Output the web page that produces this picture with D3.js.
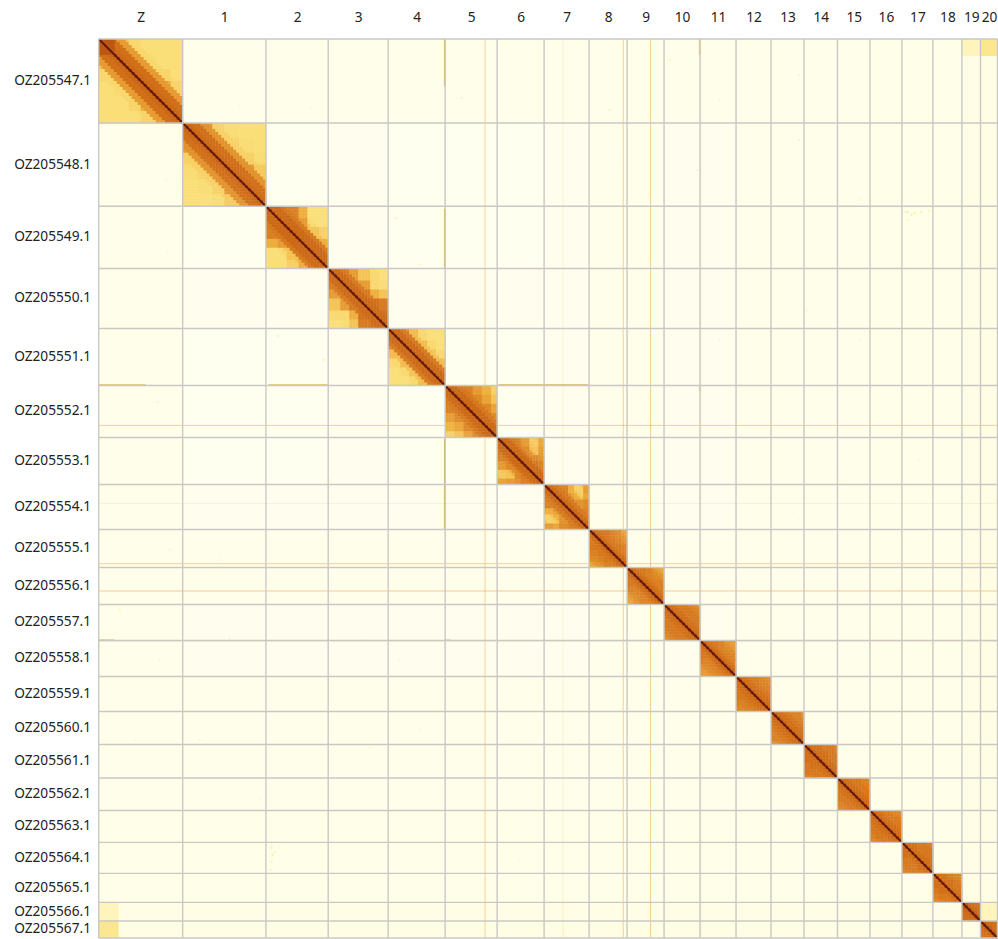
<!DOCTYPE html>
<html>
<head>
<meta charset="utf-8">
<script src="https://cdn.jsdelivr.net/npm/d3@7/dist/d3.min.js"></script>
<style>
html, body { margin: 0; padding: 0; background: #fff; }
svg { display: block; }
text { font-family: "Noto Sans", sans-serif; fill: #222; }
</style>
</head>
<body>
<script>
// scaffolds in map order
var scaffolds = ["OZ205547.1","OZ205548.1","OZ205549.1","OZ205550.1","OZ205551.1","OZ205552.1","OZ205553.1",
	"OZ205554.1","OZ205555.1","OZ205556.1","OZ205557.1","OZ205558.1","OZ205559.1","OZ205560.1","OZ205561.1",
	"OZ205562.1","OZ205563.1","OZ205564.1","OZ205565.1","OZ205566.1","OZ205567.1"];
var chromLabels = ["Z","1","2","3","4","5","6","7","8","9","10","11","12","13","14","15","16","17","18","19","20"];
// relative scaffold lengths
var scaffoldSizes = [84,83.3,62.3,60,57,52,47,45,38,37,36,36,35,33,33.5,32.5,32,31,29,18.6,17];

// contact level by distance from the diagonal, one value per tenth of the scaffold
var distanceLevels = [
	[.72,.7,.6,.44,.42,.42,.42,.42,.42,.42],
	[.72,.7,.62,.46,.43,.42,.42,.42,.42,.42],
	[.72,.72,.68,.5,.44,.42,.42,.42,.42,.42],
	[.72,.72,.68,.5,.44,.42,.42,.42,.42,.42],
	[.72,.72,.68,.5,.44,.42,.42,.42,.42,.42],
	[.72,.72,.68,.6,.56,.5,.46,.45,.45,.45],
	[.72,.72,.68,.62,.56,.5,.48,.48,.5,.55],
	[.72,.72,.68,.62,.56,.5,.46,.46,.5,.6],
	[.72,.7,.68,.66,.66,.64,.62,.6,.58,.56],
	[.72,.7,.68,.66,.66,.64,.62,.6,.58,.56],
	[.72,.7,.7,.68,.68,.68,.66,.66,.64,.62],
	[.72,.7,.68,.66,.66,.64,.62,.6,.58,.56],
	[.72,.7,.7,.68,.68,.66,.66,.64,.62,.62],
	[.72,.7,.7,.68,.68,.66,.66,.64,.62,.62],
	[.72,.7,.7,.68,.68,.68,.68,.66,.66,.66],
	[.72,.7,.7,.68,.68,.68,.66,.66,.64,.64],
	[.72,.7,.7,.68,.68,.68,.66,.66,.64,.64],
	[.72,.7,.7,.68,.68,.68,.68,.68,.66,.66],
	[.72,.7,.7,.68,.68,.68,.66,.66,.64,.64],
	[.76,.74,.72,.7,.7,.7,.68,.68,.68,.68],
	[.76,.74,.72,.7,.7,.7,.7,.7,.7,.7]
];

// coarse levels between sixths of each scaffold, upper triangle row by row
var blockLevels = [
	[.5,.44,.42,.42,.4,  .5,.43,.42,.42,  .55,.45,.42,  .55,.45,  .6],
	[.6,.45,.43,.42,.42,  .55,.45,.43,.42,  .55,.46,.43,  .6,.48,  .62],
	[.68,.66,.56,.42,.42,  .68,.6,.42,.42,  .68,.5,.46,  .62,.56,  .68],
	[.66,.6,.5,.44,.42,  .68,.6,.44,.43,  .68,.56,.5,  .7,.68,  .7],
	[.62,.52,.44,.42,.42,  .62,.52,.44,.42,  .6,.5,.44,  .6,.52,  .62],
	[.66,.66,.6,.55,.46,  .66,.64,.58,.5,  .66,.64,.58,  .66,.64,  .68],
	[.68,.66,.6,.48,.58,  .68,.64,.5,.6,  .68,.64,.62,  .68,.66,  .68],
	[.68,.66,.56,.46,.6,  .68,.58,.46,.58,  .66,.62,.64,  .68,.66,  .68],
	[.68,.68,.66,.64,.58,  .68,.68,.66,.6,  .68,.68,.66,  .68,.66,  .68],
	[.68,.68,.66,.6,.58,  .68,.66,.6,.62,  .68,.66,.66,  .68,.66,  .68],
	[.7,.68,.68,.66,.62,  .7,.68,.66,.62,  .7,.68,.66,  .68,.66,  .68],
	[.68,.68,.66,.62,.6,  .68,.66,.62,.58,  .68,.66,.64,  .66,.6,  .68],
	[.7,.68,.68,.66,.64,  .7,.68,.66,.64,  .7,.68,.66,  .68,.66,  .68],
	[.7,.68,.66,.66,.6,  .68,.68,.66,.62,  .68,.68,.66,  .68,.66,  .68],
	[.7,.7,.68,.68,.66,  .7,.7,.68,.66,  .7,.68,.68,  .7,.68,  .7],
	[.7,.68,.68,.66,.64,  .7,.68,.66,.66,  .7,.68,.66,  .68,.68,  .7],
	[.7,.68,.66,.66,.64,  .7,.68,.68,.66,  .68,.68,.66,  .68,.66,  .7],
	[.7,.7,.68,.66,.62,  .7,.68,.68,.64,  .7,.68,.66,  .7,.68,  .7],
	[.7,.7,.68,.66,.64,  .7,.7,.68,.66,  .7,.68,.66,  .68,.66,  .7],
	[.76,.72,.7,.7,.7,  .74,.72,.7,.7,  .74,.72,.7,  .72,.7,  .72],
	[.74,.72,.7,.7,.7,  .72,.72,.7,.7,  .72,.7,.7,  .72,.7,  .72]
];
// darker corner squares inside a block: scaffold, start, end in scaffold units, level
var cornerPatches = [[0,0,16,.78]];

var diagonalLevels = [.88]; // bins on the diagonal, under the darkest line

// background level of each scaffold against the others
var transLevels = [.03,.015,.015,.02,.015,.015,.015,.02,.03,.03,.02,.02,.03,.03,.03,.03,.04,.04,.04,.06,.07];
// stronger patches between scaffolds: x start, x end, y start, y end, level
var strongPatches = [[882,899,0,17,.34],[863,882,0,17,.2],[882,899,863,882,.2],[863,882,863,882,.12],[0,20,863,882,.2],[0,20,882,899,.34]];

// faint lines right across the map: position along the genome, opacity of the orange
var fullStreaks = [[386,.42],[524.3,.42],[551.6,.46],[464,.14],[602,.14]];
// short dark streaks: position, range from, range to, level
var shortStreaks = [[346,0,47,.56],[346,170,230,.56],[346,400,490,.58],[346,310,345,.45],
	[601,0,16,.48],[601,346,352,.46]];
// single spots: position, position, level
var spots = [[808,172,.3],[815,173,.26],[822,172,.24],[830,171,.22],[808,180,.2],[175,812,.24],[172,805,.2],
	[296,178,.22],[112,100,.18],[140,66,.16],[212,68,.16],[225,320,.2],[58,362,.18],[600,262,.16],[270,708,.16],
	[70,510,.18],[130,598,.2],[440,230,.18],[690,320,.15],[740,440,.15],[20,570,.2],[35,700,.18],[300,620,.16],
	[520,120,.16],[620,60,.18],[700,100,.2],[760,300,.15],[480,700,.16],[160,760,.18],[420,820,.15]];

var width = 998;
var height = 939;
var binPx = 3;

var totalSize = d3.sum(scaffoldSizes);
var starts = d3.cumsum([0].concat(scaffoldSizes));
var x = d3.scaleLinear().domain([0, totalSize]).range([98.7, 997.5]);
var y = d3.scaleLinear().domain([0, totalSize]).range([39, 938]);

var color = d3.scaleLinear()
	.domain([0,.1,.25,.42,.55,.7,.85,1])
	.range(["#fffff2","#fffcdc","#fdf0ac","#fadf78","#f0b23f","#d2701a","#a8420b","#5f1604"])
	.clamp(true);

var svg = d3.select("body").append("svg").attr("width", width).attr("height", height);
var cells = svg.append("g");

function blockLevel(k, a, b){
	if (a == b) return 0;
	var r = Math.min(a, b), c = Math.max(a, b), idx = 0;
	for (var q = 0; q < r; q++) idx += 5 - q;
	return blockLevels[k][idx + c - r - 1];
}

function drawBox(gx0, gx1, gy0, gy1, level){
	return cells.append("rect")
		.attr("x", x(gx0)).attr("y", y(gy0))
		.attr("width", x(gx1) - x(gx0)).attr("height", y(gy1) - y(gy0))
		.attr("fill", color(level));
}

// background between scaffolds
scaffolds.forEach(function(a, i){
	scaffolds.forEach(function(b, j){
		if (i != j) drawBox(starts[j], starts[j+1], starts[i], starts[i+1], Math.max(transLevels[i], transLevels[j]));
	});
});
strongPatches.forEach(function(p){
	drawBox(p[0], p[1], p[2], p[3], p[4]);
});

fullStreaks.forEach(function(s){
	drawBox(s[0], s[0]+1, 0, totalSize, .62).attr("fill-opacity", s[1]);
	drawBox(0, totalSize, s[0], s[0]+1, .62).attr("fill-opacity", s[1]);
});
shortStreaks.forEach(function(s){
	drawBox(s[0]-.6, s[0]+.8, s[1], s[2], s[3]);
	drawBox(s[1], s[2], s[0]-.6, s[0]+.8, s[3]);
});
spots.forEach(function(s){
	drawBox(s[0], s[0]+2, s[1], s[1]+2, s[2]);
	drawBox(s[1], s[1]+2, s[0], s[0]+2, s[2]);
});

// the scaffold blocks on the diagonal
scaffolds.forEach(function(name, k){
	var n = Math.round(scaffoldSizes[k] / binPx);
	var step = scaffoldSizes[k] / n;
	d3.range(n).forEach(function(i){
		d3.range(n).forEach(function(j){
			var dist = Math.abs(i - j), level;
			if (dist < diagonalLevels.length) {
				level = diagonalLevels[dist];
			} else {
				level = Math.max(distanceLevels[k][Math.min(9, Math.floor(dist / n * 10))],
					blockLevel(k, Math.floor(i / n * 6), Math.floor(j / n * 6)));
			}
			cells.append("rect")
				.attr("x", x(starts[k] + j * step)).attr("y", y(starts[k] + i * step))
				.attr("width", x(step) - x(0) + .4).attr("height", y(step) - y(0) + .4)
				.attr("fill", color(level));
		});
	});
});
cornerPatches.forEach(function(p){
	var s = starts[p[0]];
	drawBox(s + p[1], s + p[2], s + p[1], s + p[2], p[3]);
});

// dark line along the diagonal
var diagonal = d3.line().x(function(d){ return x(d); }).y(function(d){ return y(d); });
scaffolds.forEach(function(name, k){
	svg.append("path")
		.attr("d", diagonal([starts[k], starts[k+1]]))
		.attr("fill", "none")
		.attr("stroke", color(1))
		.attr("stroke-width", 1.8);
});

// scaffold grid
var grid = svg.append("g").attr("stroke", "#c9c8c4").attr("stroke-width", 1.4);
starts.forEach(function(s){
	grid.append("line").attr("x1", x(s)).attr("x2", x(s)).attr("y1", y(0)).attr("y2", y(totalSize));
	grid.append("line").attr("x1", x(0)).attr("x2", x(totalSize)).attr("y1", y(s)).attr("y2", y(s));
});

var mids = scaffoldSizes.map(function(d, i){ return starts[i] + d / 2; });

var topAxis = d3.axisTop(x).tickValues(mids).tickSize(0).tickPadding(0)
	.tickFormat(function(d, i){ return chromLabels[i]; });
svg.append("g").attr("transform", "translate(0,22)").call(topAxis)
	.call(function(g){ g.select(".domain").remove(); })
	.selectAll("text").style("font-family", '"Noto Sans", sans-serif').style("font-size", "13.7px").attr("fill", "#222");

var leftAxis = d3.axisLeft(y).tickValues(mids).tickSize(0).tickPadding(0)
	.tickFormat(function(d, i){ return scaffolds[i]; });
svg.append("g").attr("transform", "translate(91,-1)").call(leftAxis)
	.call(function(g){ g.select(".domain").remove(); })
	.selectAll("text").style("font-family", '"Noto Sans", sans-serif').style("font-size", "13.7px").attr("fill", "#222");
</script>
</body>
</html>
